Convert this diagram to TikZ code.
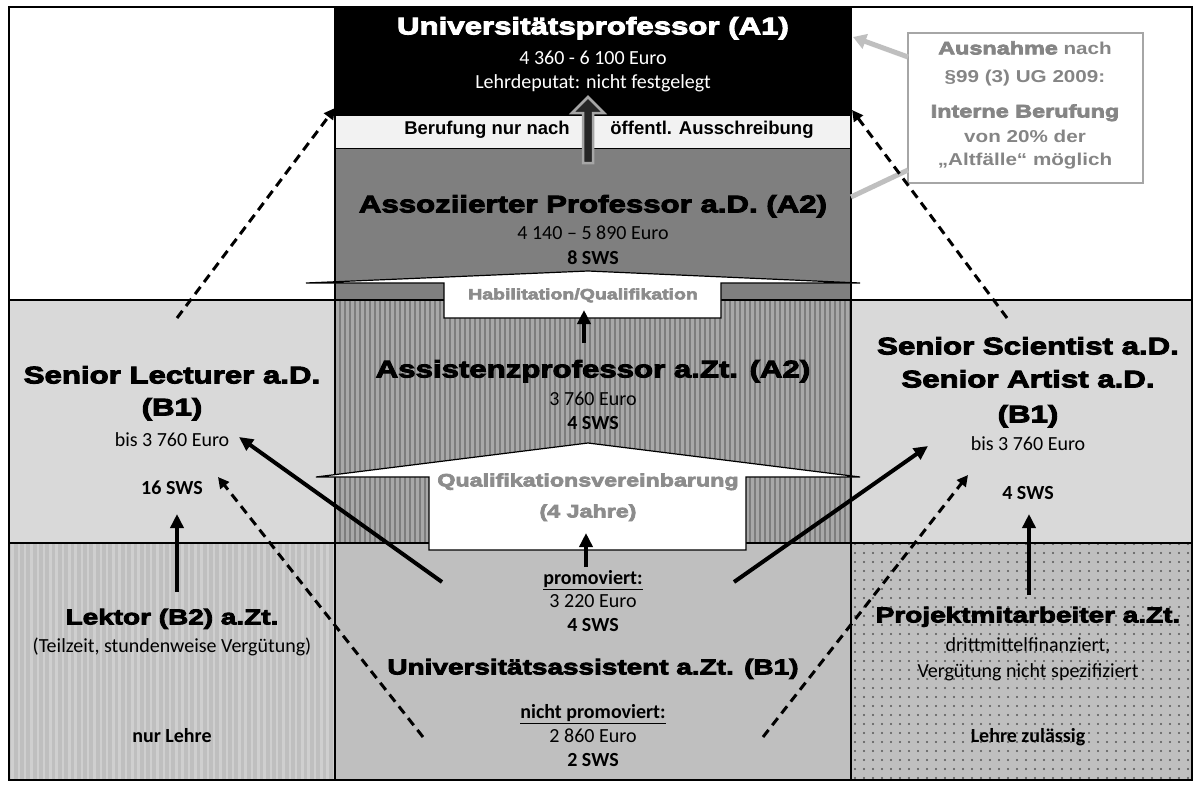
\documentclass[tikz,border=0pt]{standalone}
\usepackage{fontspec}
\setmainfont{Carlito}
\newfontfamily\blackfont[FakeStretch=1.3,FakeBold=4]{Liberation Sans}
\newfontfamily\widefont[FakeStretch=1.2]{Liberation Sans}
\newfontfamily\arialfont{Liberation Sans}
\usetikzlibrary{arrows.meta,patterns.meta}

\definecolor{leistegrau}{HTML}{F2F2F2}
\definecolor{assoz}{HTML}{7F7F7F}
\definecolor{assist}{HTML}{A8A8A8}
\definecolor{assistlinie}{HTML}{7D7D7D}
\definecolor{senior}{HTML}{D9D9D9}
\definecolor{unten}{HTML}{BFBFBF}
\definecolor{lektorlinie}{HTML}{CFCFCF}
\definecolor{punkt}{HTML}{555555}
\definecolor{hinweis}{HTML}{858585}
\definecolor{qualgrau}{HTML}{8C8C8C}
\definecolor{kasten}{HTML}{A6A6A6}
\definecolor{pfeilgrau}{HTML}{BFBFBF}
\definecolor{pfeildunkel}{HTML}{262626}

\begin{document}
\begin{tikzpicture}[x=1pt,y=-1pt,
	hd/.style={font=\blackfont\bfseries\fontsize{24}{26}\selectfont,inner sep=0pt,anchor=mid},
	hdk/.style={font=\blackfont\bfseries\fontsize{21.5}{23}\selectfont,inner sep=0pt,anchor=mid},
	txt/.style={font=\fontsize{20}{22}\selectfont,inner sep=0pt,anchor=mid},
	sws/.style={font=\bfseries\fontsize{20}{22}\selectfont,inner sep=0pt,anchor=mid},
	bar/.style={font=\arialfont\bfseries\fontsize{18.5}{20}\selectfont,inner sep=0pt,anchor=mid},
	hinw/.style={font=\widefont\bfseries\fontsize{17.2}{19}\selectfont,text=hinweis,inner sep=0pt,anchor=mid},
	hinwfett/.style={hinw,font=\blackfont\bfseries\fontsize{18}{19}\selectfont},
	qual/.style={font=\blackfont\bfseries\fontsize{17.9}{20}\selectfont,text=qualgrau,inner sep=0pt,anchor=mid},
	pfeil/.style={line width=4pt,-{Triangle[length=14pt,width=13pt]}},
	strich/.style={line width=3pt,dash pattern=on 9pt off 6pt,-{Triangle[length=11pt,width=11pt]}}]

	\useasboundingbox (0,0) rectangle (1201,787);

	% Felder
	\fill[white] (9,7) rectangle (1192,780);
	\fill[black] (335,7) rectangle (851,115);
	\fill[leistegrau] (335,115) rectangle (851,148);
	\fill[assoz] (335,148) rectangle (851,300);
	\fill[assist] (335,300) rectangle (851,543);
	\fill[pattern={Lines[angle=90,distance=5pt,line width=2.5pt]},pattern color=assistlinie] (335,300) rectangle (851,543);
	\fill[senior] (9,300) rectangle (335,543);
	\fill[senior] (851,300) rectangle (1192,543);
	\fill[unten] (9,543) rectangle (1192,780);
	\fill[pattern={Lines[angle=90,distance=6.3pt,line width=2.5pt]},pattern color=lektorlinie] (9,543) rectangle (335,780);
	\fill[pattern={Dots[radius=1.1pt,distance=9pt]},pattern color=punkt] (851,543) rectangle (1192,780);

	\draw[line width=1.5pt] (9,7) rectangle (1192,780);
	\draw[line width=1.5pt] (9,300) -- (1192,300) (9,543) -- (1192,543) (335,7) -- (335,780) (851,7) -- (851,780);
	\draw[line width=1pt] (335,115) -- (851,115) (335,148) -- (851,148);

	% Dach-Kaesten
	\draw[line width=1.2pt,fill=white] (306,283) -- (588,271) -- (860,283) -- (721,283) -- (721,318) -- (444,318) -- (444,283) -- cycle;
	\draw[line width=1.2pt,fill=white] (316,477) -- (588,443) -- (860,477) -- (746,477) -- (746,550) -- (429,550) -- (429,477) -- cycle;

	% Berufungspfeil
	\draw[kasten,line width=2.5pt,fill=pfeildunkel] (583,163) -- (583,113) -- (572,113) -- (588,97) -- (604,113) -- (593,113) -- (593,163) -- cycle;

	% Hinweis
	\draw[kasten,line width=2.5pt,fill=white] (908,33) rectangle (1143,183);
	\coordinate (k1) at (908,57);
	\coordinate (k1z) at (853,37);
	\coordinate (k2) at (908,170);
	\coordinate (k2z) at (851,197);
	\draw[pfeilgrau,line width=5pt,-{Triangle[length=13pt,width=15pt]}] (k1) -- (k1z);
	\draw[pfeilgrau,line width=5pt] (k2) -- (k2z);

	% Pfeile
	\coordinate (lektor) at (177,592);
	\coordinate (lecturer) at (177,514);
	\coordinate (projekt) at (1029,595);
	\coordinate (scientist) at (1029,514);
	\coordinate (prom) at (586,567);
	\coordinate (qual) at (586,533);
	\coordinate (assi) at (584,343);
	\coordinate (habil) at (584,310);
	\coordinate (promL) at (442,582);
	\coordinate (lecL) at (239,437);
	\coordinate (promR) at (734,582);
	\coordinate (sciR) at (928,446);
	\coordinate (nprL) at (423,737);
	\coordinate (lecD) at (218,477);
	\coordinate (nprR) at (763,737);
	\coordinate (sciD) at (968,475);
	\coordinate (lecO) at (177,318);
	\coordinate (profL) at (335,108);
	\coordinate (sciO) at (1007,318);
	\coordinate (profR) at (852,110);

	\draw[pfeil] (lektor) -- (lecturer);
	\draw[pfeil] (projekt) -- (scientist);
	\draw[pfeil] (prom) -- (qual);
	\draw[pfeil] (assi) -- (habil);
	\draw[pfeil] (promL) -- (lecL);
	\draw[pfeil] (promR) -- (sciR);
	\draw[strich] (nprL) -- (lecD);
	\draw[strich] (nprR) -- (sciD);
	\draw[strich] (lecO) -- (profL);
	\draw[strich] (sciO) -- (profR);

	% Texte
	\node[hd,white] (a1) at (593,32) {Universitätsprofessor (A1)};
	\node[txt,white] (a1geld) at (593,62) {4 360 - 6 100 Euro};
	\node[txt,white] (a1lehre) at (593,86) {Lehrdeputat: nicht festgelegt};
	\node[bar] (ber1) at (487,132) {Berufung nur nach};
	\node[bar] (ber2) at (712,132) {öffentl. Ausschreibung};

	\node[hd] (a2) at (593,210) {Assoziierter Professor a.D. (A2)};
	\node[txt] (a2geld) at (593,237) {4 140 – 5 890 Euro};
	\node[sws] (a2sws) at (593,262) {8 SWS};
	\node[qual,font=\blackfont\bfseries\fontsize{15}{17}\selectfont] (habtxt) at (583,297) {Habilitation/Qualifikation};

	\node[hd] (ass) at (593,375) {Assistenzprofessor a.Zt. (A2)};
	\node[txt] (assgeld) at (593,403) {3 760 Euro};
	\node[sws] (asssws) at (593,427) {4 SWS};
	\node[qual] (qualtxt) at (588,484) {Qualifikationsvereinbarung};
	\node[qual] (jahre) at (588,515) {(4 Jahre)};

	\node[sws] (promtxt) at (593,582) {\underline{promoviert:}};
	\node[txt] (promgeld) at (593,605) {3 220 Euro};
	\node[sws] (promsws) at (593,629) {4 SWS};
	\node[hdk] (uass) at (593,672) {Universitätsassistent a.Zt. (B1)};
	\node[sws] (nprtxt) at (593,716) {\underline{nicht promoviert:}};
	\node[txt] (nprgeld) at (593,740) {2 860 Euro};
	\node[sws] (nprsws) at (593,764) {2 SWS};

	\node[hd] (sl) at (172,381) {Senior Lecturer a.D.};
	\node[hd] (slb) at (172,413) {(B1)};
	\node[txt] (slgeld) at (172,444) {bis 3 760 Euro};
	\node[sws] (slsws) at (172,492) {16 SWS};
	\node[hdk] (lek) at (172,622) {Lektor (B2) a.Zt.};
	\node[txt] (lekteil) at (172,650) {(Teilzeit, stundenweise Vergütung)};
	\node[sws] (leklehre) at (172,740) {nur Lehre};

	\node[hd] (ss) at (1028,352) {Senior Scientist a.D.};
	\node[hd] (sa) at (1028,385) {Senior Artist a.D.};
	\node[hd] (ssb) at (1028,420) {(B1)};
	\node[txt] (ssgeld) at (1028,448) {bis 3 760 Euro};
	\node[sws] (sssws) at (1028,497) {4 SWS};
	\node[hdk] (pm) at (1028,620) {Projektmitarbeiter a.Zt.};
	\node[txt] (pmdritt) at (1028,649) {drittmittelfinanziert,};
	\node[txt] (pmverg) at (1028,675) {Vergütung nicht spezifiziert};
	\node[sws] (pmlehre) at (1028,740) {Lehre zulässig};

	\node[hinw] (aus) at (1025,52) {{\blackfont\fontsize{18}{19}\selectfont Ausnahme} nach};
	\node[hinw] (para) at (1025,80) {§99 (3) UG 2009:};
	\node[hinwfett] (intern) at (1025,115) {Interne Berufung};
	\node[hinw] (zwanzig) at (1025,140) {von 20\% der};
	\node[hinw] (alt) at (1025,163) {„Altfälle“ möglich};

\end{tikzpicture}
\end{document}
